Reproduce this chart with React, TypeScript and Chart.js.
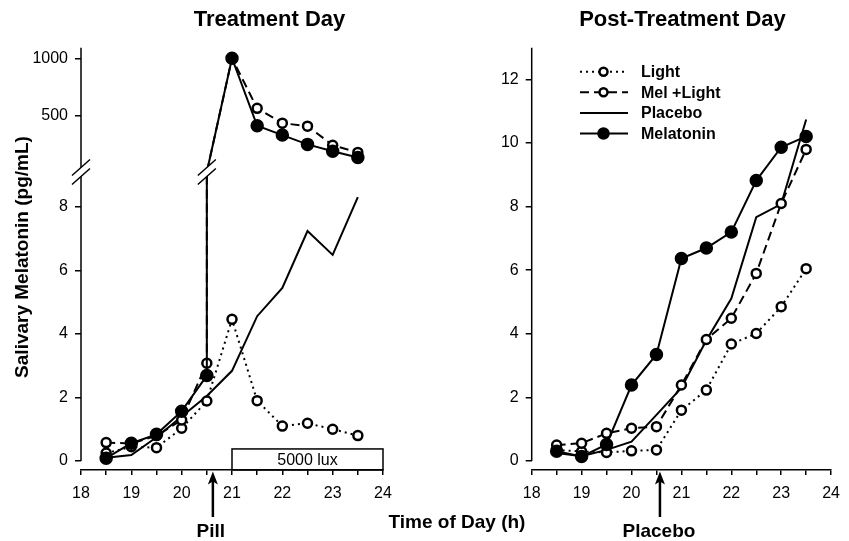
import React, { useEffect, useRef } from 'react';
import { Chart, registerables } from 'chart.js';
Chart.register(...registerables);

const FONT = '"Liberation Sans", Arial, Helvetica, sans-serif';

// ---- shared ----
const HOURS = [18.5, 19, 19.5, 20, 20.5, 21, 21.5, 22, 22.5, 23, 23.5];
const X_LABELS = [18, 19, 20, 21, 22, 23, 24];
const X_MIN = 18;
const X_MAX = 24;
const SERIES_NAMES = ['Light', 'Mel +Light', 'Placebo', 'Melatonin'];

// ---- Treatment Day (left, broken y axis) ----
const T_LIGHT = [0.25, 0.45, 0.42, 1.03, 1.89, 4.46, 1.9, 1.1, 1.19, 1.0, 0.8];
const T_PLACEBO = [0.1, 0.19, 0.75, 1.4, 2.05, 2.84, 4.56, 5.45, 7.24, 6.49, 8.31];
const T_MELLIGHT_LOW = [0.58, 0.55, 0.8, 1.29, 3.08]; // 18.5 - 20.5
const T_MELATONIN_LOW = [0.09, 0.56, 0.84, 1.57, 2.69]; // 18.5 - 20.5
const T_MELLIGHT_HIGH = [1000, 564, 435, 409, 243, 180]; // 21 - 23.5
const T_MELATONIN_HIGH = [1000, 412, 331, 250, 191, 136]; // 21 - 23.5
const LOW_TICKS = [0, 2, 4, 6, 8];
const HIGH_TICKS = [500, 1000];
const LOW_MIN = -0.283;
const LOW_MAX = 9.1;
const HIGH_MIN = 9.6;
const HIGH_MAX = 1092;
const BREAK_TIME = 20.5;
const PILL_TIME = 20.62;
const LUX_START = 21;
const LUX_END = 24;
const LUX_TOP = 0.38;

// ---- Post-Treatment Day (right) ----
const P_LIGHT = [0.35, 0.3, 0.27, 0.32, 0.35, 1.6, 2.23, 3.68, 4.01, 4.85, 6.05];
const P_MELLIGHT = [0.5, 0.56, 0.87, 1.03, 1.08, 2.39, 3.82, 4.49, 5.9, 8.1, 9.8];
const P_PLACEBO = [0.25, 0.15, 0.35, 0.61, 1.45, 2.3, 3.8, 5.11, 7.67, 8.08, 10.74];
const P_MELATONIN = [0.31, 0.14, 0.52, 2.39, 3.35, 6.37, 6.7, 7.2, 8.82, 9.87, 10.21];
const P_TICKS = [0, 2, 4, 6, 8, 10, 12];
const P_MIN = -0.283;
const P_MAX = 13.0;
const PLACEBO_TIME = 20.57;

// ---- styles ----
const STYLE: Record<string, any> = {
  Light: { borderDash: [2, 4], pointRadius: 4.5, pointBackgroundColor: '#fff' },
  'Mel +Light': { borderDash: [9, 5], pointRadius: 4.5, pointBackgroundColor: '#fff' },
  Placebo: { borderDash: [], pointRadius: 0, pointBackgroundColor: '#000' },
  Melatonin: { borderDash: [], pointRadius: 5.5, pointBackgroundColor: '#000' },
};

const pair = (xs: number[], ys: number[]) => ys.map((y, i) => ({ x: xs[i], y }));

function ds(name: string, data: { x: number; y: number }[], yAxisID: string, order: number, hideIdx: number[] = []) {
  const s = STYLE[name];
  return {
    label: name,
    data,
    yAxisID,
    order,
    borderColor: '#000',
    borderWidth: 2,
    borderDash: s.borderDash,
    borderCapStyle: 'butt',
    tension: 0,
    fill: false,
    pointStyle: 'circle',
    pointRadius: data.map((_, i) => (hideIdx.includes(i) ? 0 : s.pointRadius)),
    pointBorderWidth: 2.5,
    pointBorderColor: '#000',
    pointBackgroundColor: s.pointBackgroundColor,
  };
}

function drawBreak(ctx: CanvasRenderingContext2D, cx: number, cy: number) {
  const dx = 9, dy = 8, off = 4.5;
  ctx.save();
  ctx.fillStyle = '#fff';
  ctx.beginPath();
  ctx.moveTo(cx - dx, cy - off + dy);
  ctx.lineTo(cx + dx, cy - off - dy);
  ctx.lineTo(cx + dx, cy + off - dy);
  ctx.lineTo(cx - dx, cy + off + dy);
  ctx.closePath();
  ctx.fill();
  ctx.strokeStyle = '#000';
  ctx.lineWidth = 1.5;
  ctx.beginPath();
  ctx.moveTo(cx - dx, cy - off + dy);
  ctx.lineTo(cx + dx, cy - off - dy);
  ctx.moveTo(cx - dx, cy + off + dy);
  ctx.lineTo(cx + dx, cy + off - dy);
  ctx.stroke();
  ctx.restore();
}

function drawArrow(ctx: CanvasRenderingContext2D, x: number, yTip: number, yTail: number) {
  ctx.save();
  ctx.strokeStyle = '#000';
  ctx.fillStyle = '#000';
  ctx.lineWidth = 2.5;
  ctx.beginPath();
  ctx.moveTo(x, yTail);
  ctx.lineTo(x, yTip + 8);
  ctx.stroke();
  ctx.beginPath();
  ctx.moveTo(x, yTip);
  ctx.lineTo(x - 5, yTip + 13);
  ctx.lineTo(x, yTip + 10);
  ctx.lineTo(x + 5, yTip + 13);
  ctx.closePath();
  ctx.fill();
  ctx.restore();
}

function text(ctx: CanvasRenderingContext2D, s: string, x: number, y: number, font: string, align: CanvasTextAlign = 'center', baseline: CanvasTextBaseline = 'alphabetic') {
  ctx.save();
  ctx.font = font;
  ctx.fillStyle = '#000';
  ctx.textAlign = align;
  ctx.textBaseline = baseline;
  ctx.fillText(s, x, y);
  ctx.restore();
}

function drawYAxisLine(chart: any, zeroScale: any) {
  const { ctx, chartArea } = chart;
  ctx.save();
  ctx.strokeStyle = '#000';
  ctx.lineWidth = 1.5;
  ctx.beginPath();
  ctx.moveTo(chartArea.left, zeroScale.getPixelForValue(0));
  ctx.lineTo(chartArea.left, chartArea.top);
  ctx.stroke();
  ctx.restore();
}

const Y_SCALE_WIDTH = 60;

const xScale = () => ({
  type: 'linear',
  position: 'bottom',
  min: X_MIN,
  max: X_MAX,
  ticks: {
    stepSize: 0.5,
    autoSkip: false,
    maxRotation: 0,
    padding: 9,
    color: '#000',
    font: { family: FONT, size: 16 },
    callback: (v: number) => (X_LABELS.includes(v) ? String(v) : ''),
  },
  grid: { drawOnChartArea: false, drawTicks: true, tickLength: 5, color: '#000', lineWidth: 1.5 },
  border: { display: true, color: '#000', width: 1.5 },
  afterFit: (s: any) => { s.height = 30; },
});

const yScale = (min: number, max: number, ticks: number[], extra: any = {}) => ({
  type: 'linear',
  position: 'left',
  min,
  max,
  afterBuildTicks: (s: any) => { s.ticks = ticks.map((v) => ({ value: v })); },
  ticks: {
    padding: 7,
    color: '#000',
    font: { family: FONT, size: 16 },
    callback: (v: number) => String(v),
  },
  grid: { drawOnChartArea: false, drawTicks: true, tickLength: 6, color: '#000', lineWidth: 1.5 },
  border: { display: false },
  afterFit: (s: any) => { s.width = Y_SCALE_WIDTH; },
  ...extra,
});

const baseOptions = (padding: any, scales: any) => ({
  animation: false,
  responsive: false,
  events: [],
  layout: { padding },
  plugins: { legend: { display: false }, tooltip: { enabled: false }, title: { display: false } },
  scales,
});

function leftConfig(): any {
  const lowHours = HOURS.slice(0, 5);
  const highHours = HOURS.slice(5);
  const melLow = [...pair(lowHours, T_MELATONIN_LOW), { x: BREAK_TIME, y: LOW_MAX }];
  const melHigh = [{ x: BREAK_TIME, y: HIGH_MIN }, ...pair(highHours, T_MELATONIN_HIGH)];
  const mlLow = [...pair(lowHours, T_MELLIGHT_LOW), { x: BREAK_TIME, y: LOW_MAX }];
  const mlHigh = [{ x: BREAK_TIME, y: HIGH_MIN }, ...pair(highHours, T_MELLIGHT_HIGH)];
  const plugin = {
    id: 'leftDecor',
    beforeDatasetsDraw(chart: any) {
      const { ctx, chartArea, scales } = chart;
      drawYAxisLine(chart, scales.yLow);
      const x0 = scales.x.getPixelForValue(LUX_START);
      const x1 = scales.x.getPixelForValue(LUX_END);
      const yTop = scales.yLow.getPixelForValue(LUX_TOP);
      const yBot = chartArea.bottom;
      ctx.save();
      ctx.strokeStyle = '#000';
      ctx.lineWidth = 1.5;
      ctx.strokeRect(x0, yTop, x1 - x0, yBot - yTop);
      ctx.restore();
      text(ctx, '5000 lux', (x0 + x1) / 2, (yTop + yBot) / 2 + 1, `16px ${FONT}`, 'center', 'middle');
    },
    afterDatasetsDraw(chart: any) {
      const { ctx, chartArea, scales } = chart;
      const yB = scales.yLow.top;
      drawBreak(ctx, chartArea.left, yB);
      drawBreak(ctx, scales.x.getPixelForValue(BREAK_TIME), yB);
    },
    afterDraw(chart: any) {
      const { ctx, chartArea, scales } = chart;
      text(ctx, 'Treatment Day', 269.5, 26, `bold 22px ${FONT}`);
      ctx.save();
      ctx.translate(23, 257);
      ctx.rotate(-Math.PI / 2);
      text(ctx, 'Salivary Melatonin (pg/mL)', 0, 0, `bold 19px ${FONT}`, 'center', 'middle');
      ctx.restore();
      text(ctx, 'Time of Day (h)', 457, 528, `bold 19px ${FONT}`);
      const ax = scales.x.getPixelForValue(PILL_TIME);
      drawArrow(ctx, ax, chartArea.bottom + 1.5, 517);
      text(ctx, 'Pill', ax - 2, 537, `bold 19px ${FONT}`);
    },
  };
  return {
    type: 'line',
    data: {
      datasets: [
        ds('Melatonin', melLow, 'yLow', 0, [5]),
        ds('Melatonin', melHigh, 'yHigh', 0, [0]),
        ds('Mel +Light', mlLow, 'yLow', 1, [5]),
        ds('Mel +Light', mlHigh, 'yHigh', 1, [0]),
        ds('Light', pair(HOURS, T_LIGHT), 'yLow', 2),
        ds('Placebo', pair(HOURS, T_PLACEBO), 'yLow', 3),
      ],
    },
    options: baseOptions(
      { left: 81 - Y_SCALE_WIDTH, right: 466, top: 47.7, bottom: 41 },
      {
        x: xScale(),
        yLow: yScale(LOW_MIN, LOW_MAX, LOW_TICKS, { stack: 'ybreak', stackWeight: 298 }),
        yHigh: yScale(HIGH_MIN, HIGH_MAX, HIGH_TICKS, { stack: 'ybreak', stackWeight: 124.3 }),
      }
    ),
    plugins: [plugin],
  };
}

function rightConfig(): any {
  const plugin = {
    id: 'rightDecor',
    beforeDatasetsDraw(chart: any) {
      drawYAxisLine(chart, chart.scales.y);
    },
    afterDraw(chart: any) {
      const { ctx, chartArea, scales } = chart;
      text(ctx, 'Post-Treatment Day', 682.5, 26, `bold 22px ${FONT}`);
      const ax = scales.x.getPixelForValue(PLACEBO_TIME);
      drawArrow(ctx, ax, chartArea.bottom + 1.5, 517);
      text(ctx, 'Placebo', ax - 1, 537, `bold 19px ${FONT}`);
      // legend
      const x0 = 580, x1 = 628, xm = 603.5, tx = 641;
      SERIES_NAMES.forEach((name, i) => {
        const y = 71.7 + i * 20.6;
        const s = STYLE[name];
        ctx.save();
        ctx.strokeStyle = '#000';
        ctx.lineWidth = 2;
        ctx.lineCap = 'butt';
        ctx.setLineDash(s.borderDash);
        ctx.beginPath();
        ctx.moveTo(x0, y);
        ctx.lineTo(x1, y);
        ctx.stroke();
        ctx.setLineDash([]);
        if (s.pointRadius > 0) {
          ctx.beginPath();
          ctx.arc(xm, y, s.pointRadius - 0.5, 0, Math.PI * 2);
          ctx.fillStyle = s.pointBackgroundColor;
          ctx.fill();
          ctx.lineWidth = 2.5;
          ctx.stroke();
        }
        ctx.restore();
        text(ctx, name, tx, y + 1, `bold 16px ${FONT}`, 'left', 'middle');
      });
    },
  };
  return {
    type: 'line',
    data: {
      datasets: [
        ds('Melatonin', pair(HOURS, P_MELATONIN), 'y', 0),
        ds('Mel +Light', pair(HOURS, P_MELLIGHT), 'y', 1),
        ds('Light', pair(HOURS, P_LIGHT), 'y', 2),
        ds('Placebo', pair(HOURS, P_PLACEBO), 'y', 3),
      ],
    },
    options: baseOptions(
      { left: 531.7 - Y_SCALE_WIDTH, right: 15.7, top: 47.7, bottom: 41 },
      { x: xScale(), y: yScale(P_MIN, P_MAX, P_TICKS) }
    ),
    plugins: [plugin],
  };
}

function ChartCanvas({ make }: { make: () => any }) {
  const ref = useRef<HTMLCanvasElement | null>(null);
  useEffect(() => {
    if (!ref.current) return;
    const chart = new Chart(ref.current, make());
    return () => chart.destroy();
  }, [make]);
  return (
    <canvas
      ref={ref}
      width={849}
      height={541}
      style={{ position: 'absolute', left: 0, top: 0, width: 849, height: 541 }}
    />
  );
}

export default function App() {
  return (
    <div style={{ position: 'absolute', left: 0, top: 0, width: 849, height: 541, background: '#fff', overflow: 'hidden' }}>
      <ChartCanvas make={leftConfig} />
      <ChartCanvas make={rightConfig} />
    </div>
  );
}
